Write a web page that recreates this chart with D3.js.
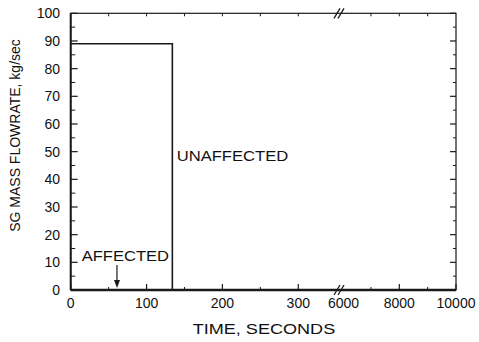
<!DOCTYPE html>
<html>
<head>
<meta charset="utf-8">
<script src="https://cdn.jsdelivr.net/npm/d3@7"></script>
<style>
  html, body { margin: 0; padding: 0; background: #fff; }
  svg { display: block; font-family: Arial, "Liberation Sans", Helvetica, sans-serif; }
</style>
</head>
<body>
<svg id="chart" width="479" height="342"></svg>
<script>
// SG mass flowrate after the transient, seconds vs kg/sec
const unaffectedTime = [0, 134, 134, 10000];
const unaffectedFlow = [89, 89, 0, 0];
const affectedTime = [0, 10000];
const affectedFlow = [0, 0];

// broken time axis: 0–355 s, then 6000–10000 s
const xMajorTicks = [0, 100, 200, 300, 6000, 8000, 10000];
const xMinorTicks = [50, 150, 250, 7000, 9000];
const xTickLabels = ["0", "100", "200", "300", "6000", "8000", "10000"];
const yMajorTicks = [0, 10, 20, 30, 40, 50, 60, 70, 80, 90, 100];
const yMinorTicks = [5, 15, 25, 35, 45, 55, 65, 75, 85, 95];

const svg = d3.select("#chart");
const plotLeft = 70.7, plotRight = 456, plotTop = 13.3, plotBottom = 290;
const breakT = 355;

const x = d3.scaleLinear()
  .domain([0, breakT, 6000, 10000])
  .range([plotLeft, 340, 342.6, plotRight]);
const y = d3.scaleLinear().domain([0, 100]).range([plotBottom, plotTop]);

const ink = "#1a1a1a";

// frame
svg.append("rect")
  .attr("x", plotLeft).attr("y", plotTop)
  .attr("width", plotRight - plotLeft).attr("height", plotBottom - plotTop)
  .attr("fill", "none").attr("stroke", ink).attr("stroke-width", 1.2);

const g = svg.append("g").attr("stroke", ink).attr("fill", "none");

// bottom axis ticks (pointing up) and top axis ticks (pointing down)
g.selectAll(".xb").data(xMajorTicks.filter(d => d !== 6000)).join("line")
  .attr("x1", d => x(d)).attr("x2", d => x(d))
  .attr("y1", plotBottom).attr("y2", plotBottom - 6).attr("stroke-width", 1.2);
g.selectAll(".xbm").data(xMinorTicks).join("line")
  .attr("x1", d => x(d)).attr("x2", d => x(d))
  .attr("y1", plotBottom).attr("y2", plotBottom - 3).attr("stroke-width", 1);
g.selectAll(".xt").data(xMajorTicks.concat(xMinorTicks).filter(d => d !== 6000 && d !== 0 && d !== 10000)).join("line")
  .attr("x1", d => x(d)).attr("x2", d => x(d))
  .attr("y1", plotTop).attr("y2", plotTop + 3).attr("stroke-width", 1);

// left and right axis ticks
g.selectAll(".yl").data(yMajorTicks).join("line")
  .attr("x1", plotLeft).attr("x2", plotLeft + 7)
  .attr("y1", d => y(d)).attr("y2", d => y(d)).attr("stroke-width", 1.2);
g.selectAll(".ylm").data(yMinorTicks).join("line")
  .attr("x1", plotLeft).attr("x2", plotLeft + 4.5)
  .attr("y1", d => y(d)).attr("y2", d => y(d)).attr("stroke-width", 1);
g.selectAll(".yr").data(yMajorTicks).join("line")
  .attr("x1", plotRight).attr("x2", plotRight - 6)
  .attr("y1", d => y(d)).attr("y2", d => y(d)).attr("stroke-width", 1.2);
g.selectAll(".yrm").data(yMinorTicks).join("line")
  .attr("x1", plotRight).attr("x2", plotRight - 3)
  .attr("y1", d => y(d)).attr("y2", d => y(d)).attr("stroke-width", 1);

// heavier left spine
svg.append("line").attr("x1", plotLeft).attr("x2", plotLeft).attr("y1", plotTop).attr("y2", plotBottom)
  .attr("stroke", ink).attr("stroke-width", 2);

// data lines
const line = d3.line().x(d => x(d[0])).y(d => y(d[1]));
svg.append("path")
  .attr("d", line(d3.zip(affectedTime, affectedFlow)))
  .attr("fill", "none").attr("stroke", ink).attr("stroke-width", 2.5);
svg.append("path")
  .attr("d", line(d3.zip(unaffectedTime, unaffectedFlow)))
  .attr("fill", "none").attr("stroke", ink).attr("stroke-width", 1.6);

// axis break marks
const bx = 340;
[plotTop, plotBottom].forEach(yy => {
  [-3, 1].forEach(off => {
    svg.append("line")
      .attr("x1", bx + off - 3).attr("y1", yy + 5)
      .attr("x2", bx + off + 3).attr("y2", yy - 5)
      .attr("stroke", ink).attr("stroke-width", 1.3);
  });
});

// tick labels
svg.append("g").selectAll("text").data(xMajorTicks).join("text")
  .attr("x", d => x(d) + (d === 6000 ? 1 : 0)).attr("y", 307.5)
  .attr("text-anchor", "middle").attr("font-size", 14).attr("fill", "#111")
  .text((d, i) => xTickLabels[i]);
svg.append("g").selectAll("text").data(yMajorTicks).join("text")
  .attr("x", 60).attr("y", d => y(d) + 5)
  .attr("text-anchor", "end").attr("font-size", 14).attr("fill", "#111")
  .text(d => d);

// axis titles
svg.append("text")
  .attr("x", 192.7).attr("y", 334)
  .attr("font-size", 14.5).attr("fill", "#111")
  .attr("textLength", 142.5).attr("lengthAdjust", "spacingAndGlyphs")
  .text("TIME, SECONDS");
svg.append("text")
  .attr("transform", "translate(20,135.5) rotate(-90)")
  .attr("text-anchor", "middle").attr("font-size", 14).attr("fill", "#111")
  .text("SG MASS FLOWRATE, kg/sec");

// annotations
svg.append("text")
  .attr("x", 176.7).attr("y", 160.7)
  .attr("font-size", 14).attr("fill", "#111")
  .attr("textLength", 111.6).attr("lengthAdjust", "spacingAndGlyphs")
  .text("UNAFFECTED");
svg.append("text")
  .attr("x", 81.7).attr("y", 261)
  .attr("font-size", 14).attr("fill", "#111")
  .attr("textLength", 87.3).attr("lengthAdjust", "spacingAndGlyphs")
  .text("AFFECTED");

// arrow from the AFFECTED label down to its zero-flow line
const ax = x(61);
svg.append("line")
  .attr("x1", ax).attr("x2", ax).attr("y1", 265).attr("y2", 281)
  .attr("stroke", ink).attr("stroke-width", 1.2);
svg.append("path")
  .attr("d", `M${ax - 3},280 L${ax + 3},280 L${ax},288 Z`)
  .attr("fill", ink);
</script>
</body>
</html>
